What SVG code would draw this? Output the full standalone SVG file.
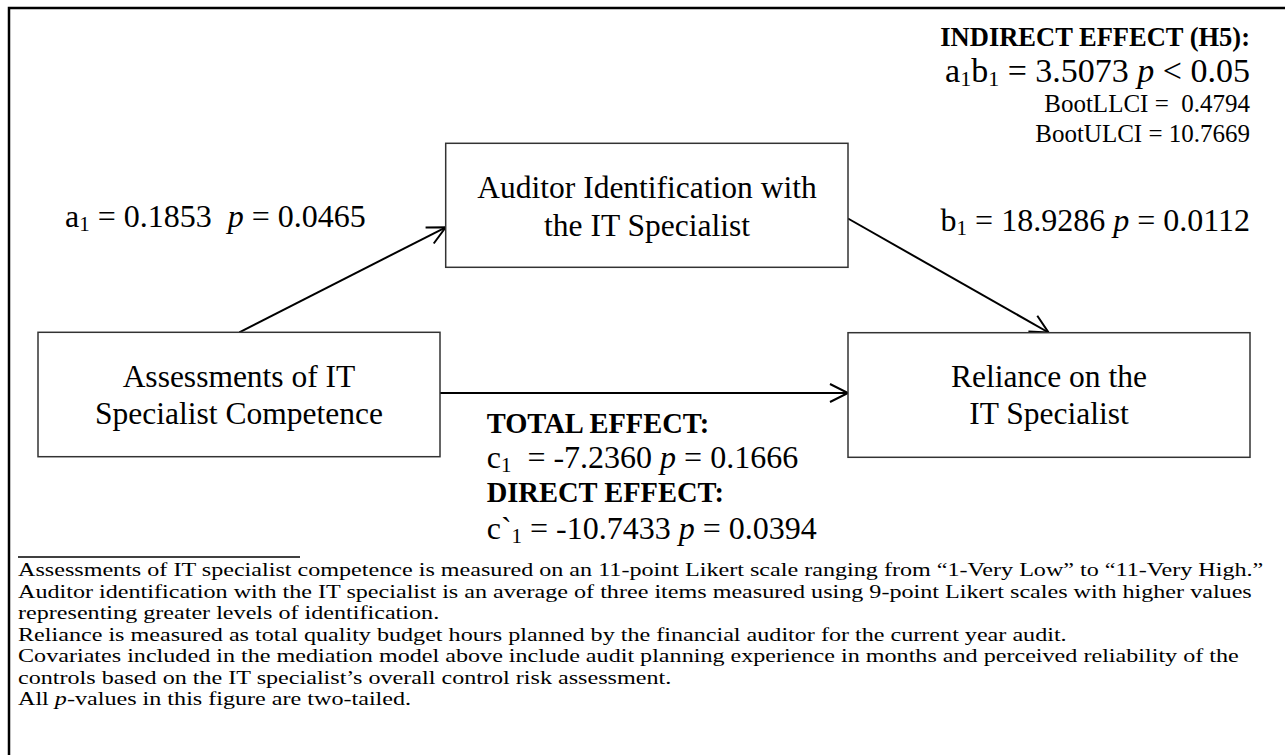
<svg xmlns="http://www.w3.org/2000/svg" width="1285" height="755" viewBox="0 0 1285 755">
<style>
text{font-family:"Liberation Serif","Times New Roman",serif;fill:#000;white-space:pre}
.lbl{font-size:32px}
.btxt{font-size:31.5px}
.box{fill:#fff;stroke:#333;stroke-width:1.5}
.bold{font-weight:bold}
.small{font-size:25px}
.note{font-size:19px}
.conn{stroke:#000;stroke-width:2;fill:none}
</style>
<defs>
<marker id="arr" markerUnits="userSpaceOnUse" markerWidth="26" markerHeight="26" viewBox="-23 -13 26 26" refX="0" refY="0" orient="auto">
<path d="M-18,-9 L0,0 L-18,9" fill="none" stroke="#000" stroke-width="2"/>
</marker>
</defs>
<rect width="1285" height="755" fill="#fff"/>
<path d="M9,760 V8 H1290" fill="none" stroke="#000" stroke-width="2.5"/>

<g id="connectors">
<line class="conn" x1="239.3" y1="332.3" x2="445.7" y2="227.3" marker-end="url(#arr)"/>
<line class="conn" x1="848" y1="218.5" x2="1048.5" y2="332.5" marker-end="url(#arr)"/>
<line class="conn" x1="440" y1="393" x2="848" y2="393" marker-end="url(#arr)"/>
</g>

<g id="node-competence">
<rect class="box" x="38" y="332.3" width="402" height="124.4"/>
<text class="btxt" x="239" y="387" text-anchor="middle">Assessments of IT</text>
<text class="btxt" x="239" y="424" text-anchor="middle">Specialist Competence</text>
</g>

<g id="node-identification">
<rect class="box" x="445.7" y="143.3" width="402.3" height="124"/>
<text class="btxt" x="647" y="198" text-anchor="middle">Auditor Identification with</text>
<text class="btxt" x="647" y="236" text-anchor="middle">the IT Specialist</text>
</g>

<g id="node-reliance">
<rect class="box" x="848" y="332.7" width="402" height="124.6"/>
<text class="btxt" x="1049" y="387" text-anchor="middle">Reliance on the</text>
<text class="btxt" x="1049" y="424" text-anchor="middle">IT Specialist</text>
</g>

<g id="label-a1">
<text class="lbl" x="65" y="227">a<tspan font-size="21" dy="4">1</tspan><tspan dy="-4"> = 0.1853  </tspan><tspan font-style="italic">p</tspan> = 0.0465</text>
</g>

<g id="label-b1">
<text class="lbl" x="1250" y="231" text-anchor="end">b<tspan font-size="21" dy="4">1</tspan><tspan dy="-4"> = 18.9286 </tspan><tspan font-style="italic">p</tspan> = 0.0112</text>
</g>

<g id="label-indirect">
<text class="bold" x="1250" y="46" font-size="26.5" text-anchor="end">INDIRECT EFFECT (H5):</text>
<text x="1250" y="82" font-size="34" text-anchor="end">a<tspan font-size="22" dy="4">1</tspan><tspan dy="-4">b</tspan><tspan font-size="22" dy="4">1</tspan><tspan dy="-4"> = 3.5073 </tspan><tspan font-style="italic">p</tspan> &lt; 0.05</text>
<text class="small" x="1250" y="112" text-anchor="end">BootLLCI =  0.4794</text>
<text class="small" x="1250" y="142" text-anchor="end">BootULCI = 10.7669</text>
</g>

<g id="label-total-direct">
<text class="bold" x="486.7" y="433" font-size="28.5">TOTAL EFFECT:</text>
<text class="lbl" x="486.7" y="467.5">c<tspan font-size="21" dy="4">1</tspan><tspan dy="-4">  = -7.2360 </tspan><tspan font-style="italic">p</tspan> = 0.1666</text>
<text class="bold" x="486.7" y="502" font-size="28.5">DIRECT EFFECT:</text>
<text class="lbl" x="486.7" y="538.5">c`<tspan font-size="21" dy="4">1</tspan><tspan dy="-4"> = -10.7433 </tspan><tspan font-style="italic">p</tspan> = 0.0394</text>
</g>

<g id="notes">
<line x1="18" y1="557" x2="300" y2="557" stroke="#000" stroke-width="1.5"/>
<g transform="translate(18,0) scale(1.27,1)">
<text class="note" x="0" y="576.5">Assessments of IT specialist competence is measured on an 11-point Likert scale ranging from “1-Very Low” to “11-Very High.”</text>
<text class="note" x="0" y="598">Auditor identification with the IT specialist is an average of three items measured using 9-point Likert scales with higher values</text>
<text class="note" x="0" y="619.5">representing greater levels of identification.</text>
<text class="note" x="0" y="641">Reliance is measured as total quality budget hours planned by the financial auditor for the current year audit.</text>
<text class="note" x="0" y="662.5">Covariates included in the mediation model above include audit planning experience in months and perceived reliability of the</text>
<text class="note" x="0" y="684">controls based on the IT specialist’s overall control risk assessment.</text>
<text class="note" x="0" y="705.5">All <tspan font-style="italic">p</tspan>-values in this figure are two-tailed.</text>
</g>
</g>
</svg>
